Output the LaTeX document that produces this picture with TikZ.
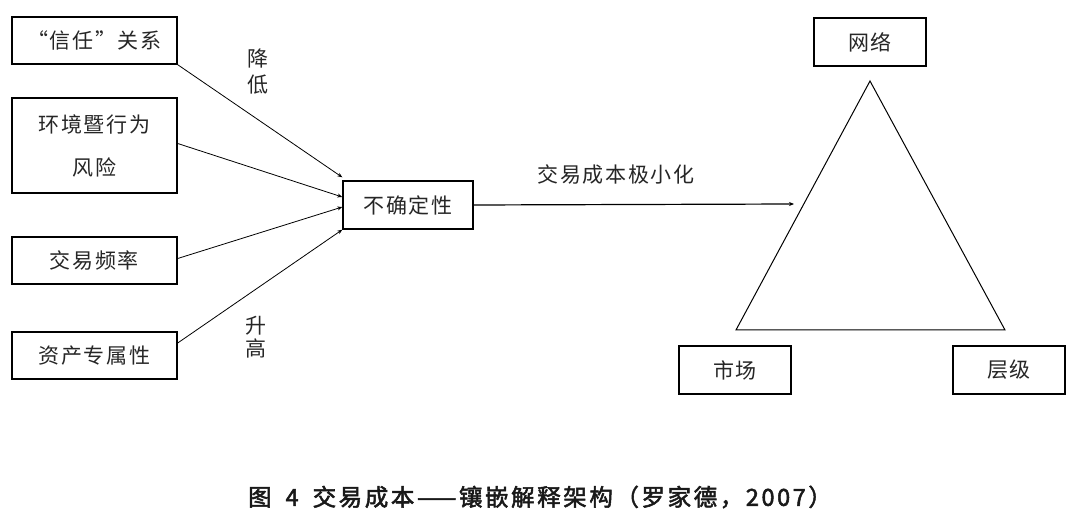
\documentclass[tikz,border=0pt]{standalone}
\usepackage{fontspec}
\newfontfamily\cjk{Noto Sans CJK SC}[LetterSpace=8]
\newfontfamily\capfont{Noto Sans CJK SC}[LetterSpace=11, FakeBold=2.2]
\usetikzlibrary{arrows.meta,calc}
\begin{document}
\begin{tikzpicture}[x=1pt,y=-1pt,
  box/.style={draw=black, line width=1.4pt, minimum width=165pt, minimum height=47pt, inner sep=0pt, font=\cjk\fontsize{21}{25}\selectfont, text=black!85},
  sbox/.style={box, minimum width=112pt, minimum height=48pt},
  lbl/.style={inner sep=0pt, font=\cjk\fontsize{21}{25}\selectfont, text=black!85},
  arr/.style={line width=0.8pt, -{Stealth[length=5pt,width=4pt]}}]
\useasboundingbox (0,0) rectangle (1079,521);
\node[box] (t) at (94.5,40.5) {“信任”关系};
\node[box, minimum height=95pt, align=center, font=\cjk\fontsize{21}{43}\selectfont] (r) at (94.5,145.5) {环境暨行为\\风险};
\node[box] (f) at (94.5,260.5) {交易频率};
\node[box] (a) at (94.5,355.5) {资产专属性};
\node[box, minimum width=130pt, minimum height=48pt] (u) at (408,205) {不确定性};
\node[sbox] (n) at (870,42) {网络};
\node[sbox] (m) at (735,370) {市场};
\node[sbox] (h) at (1009,370) {层级};
\coordinate (ta) at (870,81);
\coordinate (tl) at (736,330);
\coordinate (tr) at (1005,330);
\draw[line width=1pt] (ta) -- (tl) -- (tr) -- cycle;
\coordinate (e) at (794,204);
\draw[arr, line width=1.2pt] (u.east) -- (e);
\draw[arr] (t.south east) -- ([yshift=3pt]u.north west);
\draw[arr] ([yshift=2pt]r.east) -- ([yshift=8pt]u.west);
\draw[arr] ([yshift=2pt]f.east) -- ([yshift=-2pt]u.west);
\draw[arr] ([yshift=12.5pt]a.east) -- (u.south west);
\node[lbl] (l1) at (258,59) {降};
\node[lbl] (l2) at (258,85) {低};
\node[lbl] (l3) at (256,326) {升};
\node[lbl] (l4) at (256,348) {高};
\node[lbl] (lm) at (616,175) {交易成本极小化};
\node[inner sep=0pt, font=\capfont\fontsize{23.5}{26}\selectfont, text=black!90] (cap) at (540,497) {图\hspace{14pt}4\hspace{14pt}交易成本——镶嵌解释架构（罗家德，2007）};
\end{tikzpicture}
\end{document}
